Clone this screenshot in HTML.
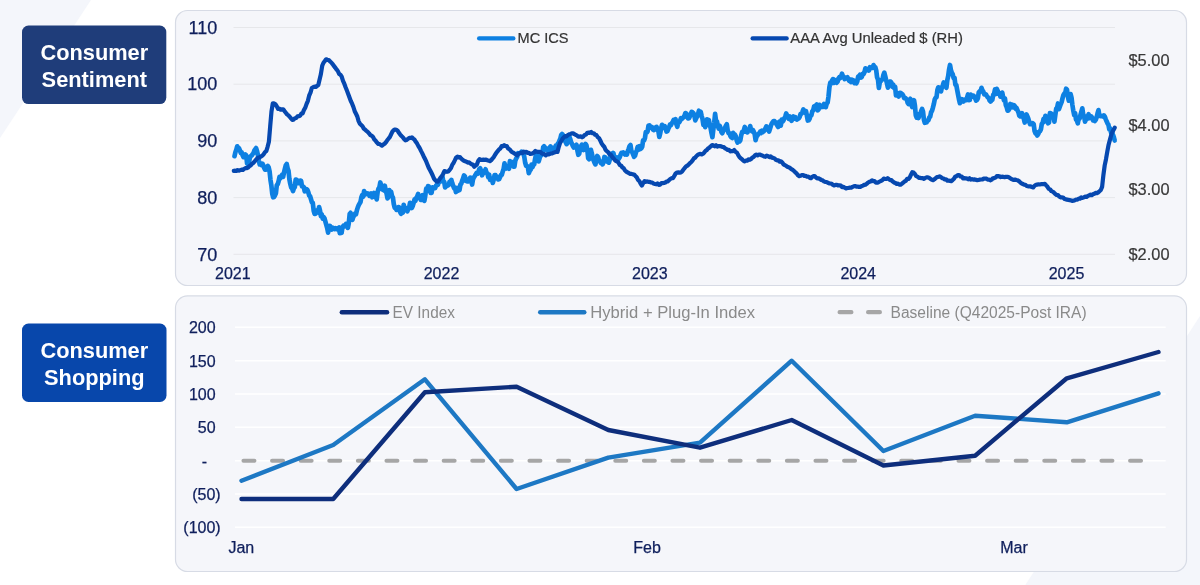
<!DOCTYPE html>
<html lang="en">
<head>
<meta charset="utf-8">
<title>Consumer Sentiment and Consumer Shopping</title>
<style>
html,body{margin:0;padding:0;background:#ffffff;}
body{width:1200px;height:585px;overflow:hidden;font-family:'Liberation Sans', Arial, sans-serif;}
svg{display:block;}
text{font-family:'Liberation Sans', Arial, sans-serif;}
.ax{fill:#0f1f5c;font-size:18px;stroke:#0f1f5c;stroke-width:0.25px;}
.ax2{fill:#0f1f5c;font-size:16px;stroke:#0f1f5c;stroke-width:0.25px;}
.rh{fill:#383838;font-size:16.4px;stroke:#383838;stroke-width:0.2px;}
.lg{fill:#333333;font-size:14.6px;stroke:#333333;stroke-width:0.2px;}
.lg2{fill:#8a8a8a;font-size:15.8px;}
.badge{fill:#ffffff;font-size:21.8px;font-weight:bold;text-anchor:middle;}
</style>
</head>
<body>
<svg width="1200" height="585" viewBox="0 0 1200 585">
<!-- background decorative shapes -->
<polygon points="0,0 91,0 0,138" fill="#f4f6fb"/>
<polygon points="1200,316 1200,585 1025.3,585" fill="#f4f6fb"/>

<!-- panels -->
<rect x="175.5" y="10.5" width="1011" height="275" rx="12" ry="12" fill="#f5f6fa" stroke="#d7dbe5" stroke-width="1.2"/>
<rect x="175.5" y="295.8" width="1011" height="275.7" rx="12" ry="12" fill="#f5f6fa" stroke="#d7dbe5" stroke-width="1.2"/>

<!-- badges -->
<rect x="22" y="25.5" width="144.3" height="78.6" rx="6.5" fill="#1f3d7a"/>
<text class="badge" x="94.3" y="60">Consumer</text>
<text class="badge" x="94.3" y="86.7">Sentiment</text>
<rect x="22" y="323.6" width="144.5" height="78.4" rx="6.5" fill="#0847ab"/>
<text class="badge" x="94.3" y="358">Consumer</text>
<text class="badge" x="94.3" y="384.5">Shopping</text>

<!-- top chart: gridlines -->
<g stroke="#e6e7ea" stroke-width="1">
<line x1="233.5" y1="27.5" x2="1115" y2="27.5"/>
<line x1="233.5" y1="84.2" x2="1115" y2="84.2"/>
<line x1="233.5" y1="140.9" x2="1115" y2="140.9"/>
<line x1="233.5" y1="197.6" x2="1115" y2="197.6"/>
<line x1="233.5" y1="254.3" x2="1115" y2="254.3"/>
</g>
<g class="ax" text-anchor="end">
<text x="217.2" y="33.7">110</text>
<text x="217.2" y="90.4">100</text>
<text x="217.2" y="147.1">90</text>
<text x="217.2" y="203.8">80</text>
<text x="217.2" y="260.5">70</text>
</g>
<g class="rh" text-anchor="start">
<text x="1128.5" y="66.2">$5.00</text>
<text x="1128.5" y="130.9">$4.00</text>
<text x="1128.5" y="195.4">$3.00</text>
<text x="1128.5" y="260.2">$2.00</text>
</g>
<g class="ax2" text-anchor="middle">
<text x="232.8" y="279.4">2021</text>
<text x="441.5" y="279.4">2022</text>
<text x="649.8" y="279.4">2023</text>
<text x="858.2" y="279.4">2024</text>
<text x="1066.5" y="279.4">2025</text>
</g>
<polyline fill="none" stroke="#0d80e2" stroke-width="4.7" stroke-linejoin="round" stroke-linecap="round" points="234.5,156.2 235.4,152.3 236.3,149.8 237.2,146.3 238.1,147.7 239.0,148.3 239.9,150.4 240.8,152.8 241.7,152.4 242.6,155.3 243.5,157.1 244.4,156.7 245.3,154.4 246.2,155.2 247.1,163.5 248.0,164.3 248.9,162.7 249.8,158.0 250.7,156.2 251.6,155.6 252.5,154.3 253.4,153.3 254.3,150.7 255.2,149.4 256.1,148.1 257.0,150.9 257.9,155.0 258.8,160.4 259.7,164.4 260.6,163.5 261.5,165.0 262.4,163.7 263.3,165.4 264.2,167.9 265.1,169.7 266.0,169.6 266.9,168.0 267.8,165.9 268.7,167.5 269.6,171.5 270.5,180.1 271.4,185.7 272.3,193.9 273.2,197.3 274.1,197.0 275.0,195.3 275.9,193.3 276.8,185.1 277.7,184.2 278.6,181.2 279.5,176.9 280.4,178.2 281.3,177.0 282.2,174.6 283.1,176.9 284.0,172.6 284.9,168.8 285.8,165.3 286.7,164.0 287.6,168.2 288.5,170.7 289.4,179.3 290.3,184.0 291.2,187.4 292.1,188.5 293.0,191.1 293.9,188.2 294.8,187.1 295.7,179.5 296.6,179.7 297.5,181.4 298.4,183.2 299.3,183.1 300.2,180.6 301.1,180.8 302.0,186.3 302.9,186.3 303.8,187.2 304.7,191.3 305.6,191.0 306.5,189.2 307.4,189.9 308.3,192.1 309.2,195.6 310.1,196.2 311.0,199.2 311.9,202.4 312.8,202.9 313.7,210.8 314.6,213.9 315.5,213.7 316.4,210.7 317.3,212.3 318.2,212.5 319.1,207.0 320.0,210.6 320.9,216.2 321.8,214.4 322.7,218.5 323.6,217.0 324.5,218.3 325.4,221.7 326.3,224.9 327.2,228.0 328.1,232.6 329.0,227.8 329.9,225.9 330.8,229.2 331.7,229.5 332.6,227.6 333.5,228.5 334.4,229.1 335.3,228.1 336.2,228.5 337.1,229.3 338.0,228.2 338.9,227.6 339.8,233.2 340.7,231.8 341.6,232.8 342.5,227.0 343.4,225.8 344.3,226.4 345.2,225.7 346.1,223.9 347.0,225.3 347.9,227.9 348.8,223.1 349.7,214.0 350.6,212.8 351.5,217.9 352.4,219.8 353.3,216.8 354.2,215.6 355.1,213.5 356.0,214.1 356.9,210.2 357.8,207.4 358.7,205.2 359.6,203.5 360.5,202.0 361.4,197.1 362.3,195.0 363.2,196.7 364.1,191.0 365.0,193.4 365.9,194.2 366.8,193.3 367.7,193.5 368.6,193.5 369.5,195.9 370.4,195.0 371.3,193.5 372.2,197.3 373.1,194.2 374.0,193.0 374.9,193.6 375.8,196.1 376.7,199.4 377.6,192.2 378.5,188.7 379.4,187.5 380.3,182.5 381.2,185.4 382.1,189.1 383.0,189.8 383.9,190.4 384.8,185.7 385.7,190.2 386.6,193.6 387.5,198.4 388.4,197.2 389.3,190.1 390.2,194.3 391.1,191.8 392.0,196.0 392.9,197.4 393.8,204.1 394.7,207.8 395.6,208.2 396.5,209.9 397.4,209.4 398.3,207.1 399.2,207.3 400.1,212.0 401.0,213.8 401.9,210.8 402.8,212.7 403.7,204.8 404.6,208.5 405.5,207.9 406.4,209.4 407.3,211.3 408.2,209.3 409.1,207.9 410.0,202.9 410.9,204.0 411.8,208.0 412.7,206.0 413.6,203.0 414.5,199.5 415.4,200.8 416.3,197.8 417.2,196.6 418.1,193.9 419.0,197.5 419.9,198.2 420.8,199.9 421.7,199.7 422.6,195.2 423.5,200.1 424.4,200.7 425.3,195.5 426.2,188.7 427.1,190.8 428.0,186.1 428.9,186.5 429.8,190.4 430.7,192.9 431.6,192.8 432.5,187.4 433.4,188.6 434.3,188.2 435.2,187.9 436.1,185.5 437.0,184.5 437.9,184.9 438.8,181.7 439.7,180.1 440.6,181.4 441.5,178.6 442.4,176.5 443.3,181.5 444.2,181.7 445.1,187.4 446.0,186.4 446.9,184.9 447.8,185.5 448.7,184.9 449.6,181.7 450.5,181.2 451.4,180.0 452.3,183.4 453.2,185.9 454.1,188.2 455.0,187.4 455.9,192.0 456.8,190.6 457.7,190.8 458.6,187.7 459.5,190.0 460.4,184.6 461.3,183.6 462.2,180.6 463.1,178.5 464.0,175.4 464.9,176.3 465.8,180.8 466.7,180.6 467.6,181.5 468.5,181.4 469.4,179.0 470.3,177.6 471.2,180.4 472.1,184.5 473.0,179.4 473.9,177.3 474.8,176.0 475.7,174.5 476.6,173.0 477.5,173.6 478.4,171.8 479.3,169.0 480.2,168.2 481.1,171.3 482.0,175.3 482.9,173.7 483.8,172.1 484.7,171.2 485.6,169.3 486.5,173.0 487.4,173.3 488.3,177.1 489.2,174.8 490.1,179.8 491.0,179.6 491.9,179.0 492.8,182.9 493.7,179.6 494.6,175.0 495.5,175.0 496.4,177.3 497.3,177.0 498.2,179.4 499.1,179.1 500.0,177.3 500.9,175.1 501.8,174.8 502.7,171.7 503.6,169.1 504.5,163.3 505.4,166.8 506.3,168.5 507.2,167.3 508.1,167.8 509.0,168.8 509.9,161.2 510.8,161.9 511.7,164.5 512.6,162.1 513.5,166.6 514.4,166.6 515.3,160.7 516.2,158.5 517.1,157.1 518.0,153.2 518.9,153.5 519.8,153.1 520.7,153.0 521.6,151.7 522.5,152.9 523.4,153.1 524.3,157.0 525.2,162.8 526.1,165.7 527.0,166.0 527.9,167.2 528.8,173.2 529.7,170.8 530.6,169.8 531.5,164.6 532.4,167.3 533.3,165.3 534.2,164.3 535.1,158.9 536.0,154.7 536.9,156.1 537.8,154.9 538.7,161.3 539.6,158.3 540.5,154.6 541.4,155.3 542.3,153.9 543.2,147.3 544.1,146.2 545.0,147.7 545.9,149.3 546.8,150.3 547.7,148.7 548.6,151.5 549.5,148.5 550.4,146.4 551.3,147.3 552.2,152.1 553.1,149.7 554.0,149.5 554.9,147.6 555.8,145.6 556.7,147.5 557.6,144.1 558.5,143.0 559.4,140.8 560.3,138.8 561.2,135.1 562.1,134.0 563.0,135.2 563.9,137.6 564.8,140.4 565.7,142.3 566.6,144.1 567.5,142.8 568.4,137.9 569.3,136.5 570.2,139.0 571.1,142.1 572.0,143.8 572.9,146.0 573.8,147.5 574.7,147.0 575.6,145.8 576.5,144.7 577.4,150.5 578.3,154.8 579.2,153.7 580.1,149.1 581.0,146.2 581.9,144.6 582.8,145.3 583.7,150.0 584.6,145.3 585.5,144.0 586.4,145.2 587.3,149.5 588.2,158.2 589.1,159.2 590.0,153.3 590.9,149.8 591.8,153.3 592.7,157.8 593.6,160.4 594.5,162.6 595.4,164.4 596.3,160.2 597.2,156.0 598.1,157.0 599.0,160.3 599.9,161.2 600.8,163.0 601.7,161.9 602.6,164.4 603.5,162.0 604.4,157.0 605.3,157.2 606.2,158.8 607.1,161.5 608.0,160.2 608.9,162.7 609.8,159.5 610.7,155.4 611.6,153.6 612.5,154.9 613.4,153.0 614.3,157.0 615.2,159.0 616.1,158.4 617.0,157.5 617.9,160.2 618.8,158.5 619.7,157.3 620.6,154.7 621.5,152.8 622.4,153.0 623.3,152.5 624.2,153.3 625.1,154.5 626.0,154.2 626.9,154.6 627.8,151.2 628.7,148.8 629.6,146.1 630.5,145.1 631.4,151.2 632.3,152.3 633.2,154.6 634.1,156.8 635.0,155.8 635.9,152.7 636.8,150.2 637.7,146.8 638.6,149.7 639.5,146.2 640.4,149.1 641.3,148.3 642.2,146.6 643.1,140.3 644.0,140.5 644.9,138.4 645.8,132.2 646.7,132.6 647.6,131.3 648.5,125.7 649.4,125.3 650.3,126.8 651.2,127.8 652.1,127.2 653.0,129.7 653.9,130.1 654.8,129.0 655.7,127.4 656.6,126.9 657.5,130.0 658.4,131.2 659.3,137.0 660.2,133.4 661.1,128.4 662.0,124.9 662.9,126.1 663.8,127.8 664.7,126.1 665.6,128.2 666.5,131.6 667.4,131.2 668.3,128.8 669.2,126.9 670.1,124.3 671.0,125.0 671.9,123.1 672.8,121.6 673.7,119.9 674.6,120.1 675.5,119.2 676.4,124.3 677.3,126.8 678.2,122.4 679.1,122.5 680.0,121.0 680.9,118.2 681.8,119.0 682.7,117.9 683.6,117.3 684.5,115.8 685.4,113.1 686.3,113.6 687.2,116.7 688.1,118.5 689.0,118.3 689.9,116.3 690.8,113.7 691.7,111.9 692.6,112.4 693.5,113.2 694.4,115.8 695.3,120.4 696.2,118.4 697.1,116.5 698.0,114.3 698.9,110.7 699.8,115.0 700.7,111.8 701.6,115.8 702.5,118.9 703.4,124.8 704.3,122.9 705.2,127.1 706.1,125.0 707.0,119.3 707.9,119.7 708.8,120.0 709.7,124.5 710.6,128.0 711.5,133.0 712.4,137.2 713.3,129.7 714.2,122.8 715.1,113.9 716.0,120.7 716.9,121.2 717.8,125.5 718.7,128.6 719.6,125.7 720.5,127.8 721.4,132.1 722.3,133.2 723.2,130.8 724.1,129.8 725.0,127.9 725.9,125.7 726.8,124.3 727.7,130.6 728.6,133.1 729.5,133.3 730.4,136.1 731.3,137.3 732.2,137.9 733.1,132.9 734.0,134.0 734.9,134.5 735.8,136.3 736.7,140.3 737.6,142.5 738.5,141.5 739.4,141.5 740.3,140.3 741.2,135.3 742.1,132.1 743.0,131.6 743.9,130.2 744.8,127.0 745.7,131.7 746.6,129.9 747.5,132.4 748.4,129.4 749.3,129.4 750.2,126.1 751.1,130.2 752.0,131.3 752.9,129.9 753.8,131.8 754.7,134.2 755.6,140.2 756.5,136.6 757.4,135.7 758.3,134.0 759.2,133.4 760.1,131.8 761.0,133.0 761.9,130.7 762.8,132.0 763.7,131.3 764.6,130.4 765.5,128.2 766.4,126.4 767.3,128.8 768.2,128.8 769.1,131.5 770.0,128.7 770.9,125.7 771.8,123.5 772.7,122.2 773.6,121.1 774.5,121.2 775.4,122.3 776.3,123.9 777.2,125.3 778.1,127.0 779.0,121.8 779.9,121.4 780.8,125.6 781.7,119.5 782.6,121.5 783.5,120.4 784.4,118.3 785.3,116.5 786.2,113.5 787.1,115.5 788.0,116.4 788.9,118.8 789.8,116.4 790.7,119.2 791.6,120.7 792.5,117.9 793.4,116.6 794.3,118.6 795.2,117.1 796.1,119.2 797.0,119.6 797.9,118.8 798.8,118.4 799.7,116.8 800.6,114.0 801.5,113.7 802.4,112.1 803.3,109.5 804.2,110.8 805.1,112.7 806.0,111.1 806.9,115.7 807.8,120.5 808.7,120.3 809.6,118.8 810.5,115.7 811.4,115.3 812.3,111.2 813.2,110.4 814.1,106.5 815.0,105.9 815.9,105.6 816.8,104.5 817.7,110.3 818.6,109.4 819.5,104.8 820.4,107.4 821.3,106.1 822.2,106.9 823.1,106.8 824.0,104.0 824.9,105.3 825.8,107.1 826.7,103.7 827.6,102.6 828.5,96.5 829.4,87.2 830.3,82.6 831.2,83.4 832.1,80.5 833.0,79.1 833.9,82.9 834.8,80.1 835.7,80.9 836.6,82.8 837.5,81.8 838.4,78.6 839.3,77.3 840.2,78.2 841.1,77.0 842.0,73.7 842.9,76.2 843.8,76.7 844.7,79.1 845.6,78.3 846.5,78.0 847.4,77.3 848.3,79.3 849.2,80.8 850.1,79.4 851.0,82.1 851.9,79.7 852.8,80.3 853.7,80.6 854.6,83.1 855.5,81.9 856.4,83.2 857.3,81.2 858.2,76.4 859.1,76.1 860.0,74.8 860.9,77.6 861.8,76.9 862.7,74.0 863.6,74.2 864.5,72.0 865.4,68.3 866.3,70.3 867.2,69.0 868.1,68.9 869.0,70.5 869.9,67.2 870.8,68.0 871.7,68.0 872.6,67.9 873.5,65.1 874.4,66.7 875.3,67.2 876.2,70.3 877.1,77.4 878.0,79.5 878.9,88.0 879.8,82.1 880.7,81.3 881.6,79.8 882.5,79.5 883.4,75.0 884.3,72.6 885.2,76.1 886.1,80.0 887.0,83.4 887.9,87.6 888.8,82.8 889.7,81.6 890.6,81.5 891.5,82.8 892.4,86.7 893.3,84.7 894.2,88.3 895.1,86.7 896.0,95.4 896.9,94.0 897.8,95.3 898.7,96.4 899.6,92.8 900.5,92.8 901.4,93.6 902.3,94.2 903.2,95.5 904.1,98.0 905.0,97.8 905.9,98.6 906.8,99.6 907.7,102.9 908.6,104.1 909.5,100.9 910.4,98.8 911.3,104.0 912.2,107.0 913.1,104.2 914.0,100.2 914.9,105.4 915.8,115.4 916.7,117.6 917.6,114.3 918.5,118.0 919.4,115.5 920.3,114.2 921.2,111.0 922.1,109.0 923.0,111.6 923.9,119.6 924.8,122.8 925.7,122.5 926.6,122.2 927.5,120.7 928.4,120.3 929.3,117.5 930.2,116.6 931.1,112.2 932.0,110.7 932.9,107.7 933.8,104.2 934.7,99.6 935.6,97.7 936.5,97.2 937.4,90.0 938.3,87.3 939.2,89.8 940.1,88.6 941.0,91.4 941.9,87.1 942.8,85.6 943.7,82.5 944.6,83.5 945.5,85.8 946.4,87.8 947.3,80.3 948.2,76.1 949.1,69.4 950.0,65.0 950.9,69.9 951.8,72.7 952.7,74.2 953.6,78.0 954.5,77.8 955.4,84.7 956.3,85.0 957.2,90.0 958.1,94.7 959.0,99.4 959.9,103.2 960.8,101.0 961.7,99.2 962.6,99.6 963.5,101.5 964.4,99.7 965.3,100.1 966.2,100.2 967.1,97.7 968.0,94.5 968.9,100.1 969.8,100.0 970.7,94.5 971.6,96.9 972.5,96.2 973.4,95.6 974.3,96.6 975.2,98.4 976.1,100.5 977.0,100.0 977.9,98.2 978.8,92.2 979.7,91.2 980.6,91.6 981.5,87.9 982.4,90.3 983.3,91.6 984.2,94.3 985.1,94.1 986.0,94.6 986.9,96.0 987.8,97.3 988.7,97.9 989.6,100.5 990.5,101.5 991.4,100.6 992.3,99.8 993.2,94.8 994.1,93.8 995.0,89.4 995.9,94.0 996.8,88.8 997.7,91.0 998.6,93.8 999.5,93.2 1000.4,96.7 1001.3,95.6 1002.2,92.6 1003.1,96.9 1004.0,100.4 1004.9,98.4 1005.8,105.0 1006.7,107.2 1007.6,110.6 1008.5,110.4 1009.4,108.9 1010.3,104.0 1011.2,105.7 1012.1,104.8 1013.0,107.3 1013.9,105.1 1014.8,106.1 1015.7,108.7 1016.6,108.1 1017.5,110.4 1018.4,112.1 1019.3,115.7 1020.2,116.4 1021.1,115.6 1022.0,113.1 1022.9,116.4 1023.8,118.7 1024.7,122.5 1025.6,117.4 1026.5,114.5 1027.4,116.5 1028.3,118.7 1029.2,121.6 1030.1,124.1 1031.0,123.8 1031.9,124.3 1032.8,123.2 1033.7,124.3 1034.6,131.1 1035.5,133.2 1036.4,132.3 1037.3,135.5 1038.2,134.1 1039.1,131.8 1040.0,131.1 1040.9,129.4 1041.8,123.9 1042.7,122.8 1043.6,118.8 1044.5,121.5 1045.4,115.8 1046.3,119.9 1047.2,119.6 1048.1,123.3 1049.0,122.5 1049.9,113.1 1050.8,113.3 1051.7,114.1 1052.6,115.0 1053.5,115.9 1054.4,121.6 1055.3,115.2 1056.2,108.7 1057.1,108.0 1058.0,103.5 1058.9,109.2 1059.8,106.7 1060.7,104.2 1061.6,102.1 1062.5,98.4 1063.4,95.2 1064.3,93.6 1065.2,93.5 1066.1,88.7 1067.0,89.8 1067.9,96.8 1068.8,100.6 1069.7,99.5 1070.6,94.1 1071.5,97.5 1072.4,105.0 1073.3,110.6 1074.2,115.1 1075.1,113.1 1076.0,119.5 1076.9,120.6 1077.8,123.3 1078.7,118.3 1079.6,118.6 1080.5,114.8 1081.4,111.6 1082.3,108.3 1083.2,114.6 1084.1,116.0 1085.0,121.6 1085.9,119.3 1086.8,119.1 1087.7,116.7 1088.6,114.2 1089.5,118.1 1090.4,117.3 1091.3,116.4 1092.2,118.0 1093.1,120.3 1094.0,118.6 1094.9,121.0 1095.8,119.7 1096.7,117.0 1097.6,113.2 1098.5,110.1 1099.4,115.9 1100.3,115.6 1101.2,116.2 1102.1,115.8 1103.0,116.5 1103.9,115.4 1104.8,116.6 1105.7,119.1 1106.6,121.3 1107.5,123.3 1108.4,124.6 1109.3,129.2 1110.2,128.5 1111.1,132.7 1112.0,131.4 1112.9,134.5 1113.8,137.0 1114.7,140.5 1114.7,140.2"/>
<polyline fill="none" stroke="#0648b0" stroke-width="4.2" stroke-linejoin="round" stroke-linecap="round" points="233.8,170.8 235.1,170.7 236.4,171.0 237.7,170.1 239.0,170.7 240.3,170.1 241.6,169.6 242.9,170.0 244.2,168.8 245.5,168.2 246.8,168.1 248.1,167.5 249.4,166.1 250.7,165.4 252.0,163.8 253.3,162.9 254.6,161.5 255.9,159.9 257.2,158.5 258.5,157.5 259.8,157.2 261.1,156.4 262.4,155.5 263.7,154.2 265.0,152.2 266.3,151.2 267.6,146.8 268.9,141.7 270.2,126.2 271.5,111.3 272.8,103.4 274.1,103.4 275.4,104.3 276.7,106.2 278.0,108.9 279.3,108.6 280.6,109.7 281.9,109.4 283.2,109.3 284.5,111.1 285.8,112.7 287.1,114.4 288.4,115.4 289.7,116.8 291.0,118.4 292.3,119.8 293.6,119.6 294.9,118.3 296.2,118.0 297.5,116.4 298.8,116.2 300.1,115.8 301.4,113.5 302.7,113.3 304.0,109.8 305.3,107.7 306.6,103.8 307.9,100.8 309.2,95.5 310.5,92.7 311.8,88.0 313.1,87.2 314.4,86.7 315.7,87.0 317.0,86.0 318.3,85.1 319.6,79.6 320.9,74.0 322.2,65.8 323.5,62.7 324.8,61.1 326.1,59.3 327.4,59.8 328.7,60.0 330.0,61.4 331.3,62.5 332.6,64.1 333.9,65.9 335.2,67.6 336.5,69.4 337.8,71.0 339.1,73.9 340.4,74.7 341.7,76.7 343.0,80.8 344.3,83.7 345.6,87.3 346.9,90.5 348.2,93.9 349.5,97.5 350.8,101.0 352.1,103.7 353.4,107.0 354.7,111.2 356.0,113.8 357.3,116.5 358.6,121.1 359.9,123.7 361.2,125.0 362.5,126.3 363.8,128.6 365.1,129.7 366.4,130.8 367.7,131.8 369.0,133.3 370.3,135.1 371.6,135.7 372.9,136.8 374.2,139.2 375.5,140.6 376.8,142.4 378.1,143.8 379.4,144.0 380.7,144.8 382.0,145.7 383.3,144.6 384.6,143.7 385.9,142.3 387.2,140.3 388.5,138.7 389.8,137.2 391.1,134.4 392.4,131.6 393.7,130.1 395.0,129.5 396.3,129.8 397.6,130.7 398.9,132.8 400.2,134.6 401.5,136.0 402.8,137.2 404.1,139.0 405.4,140.3 406.7,139.9 408.0,138.9 409.3,137.9 410.6,137.9 411.9,137.4 413.2,138.6 414.5,139.7 415.8,141.8 417.1,143.6 418.4,146.1 419.7,148.2 421.0,150.9 422.3,153.4 423.6,156.2 424.9,158.8 426.2,161.4 427.5,164.7 428.8,167.9 430.1,170.2 431.4,172.8 432.7,175.5 434.0,178.6 435.3,180.3 436.6,181.5 437.9,181.6 439.2,179.6 440.5,177.7 441.8,176.3 443.1,174.0 444.4,171.2 445.7,171.4 447.0,171.8 448.3,171.5 449.6,169.9 450.9,168.3 452.2,164.9 453.5,163.0 454.8,160.4 456.1,157.6 457.4,156.6 458.7,157.4 460.0,157.1 461.3,158.7 462.6,159.8 463.9,160.7 465.2,161.2 466.5,161.7 467.8,162.7 469.1,162.4 470.4,163.4 471.7,164.3 473.0,164.8 474.3,166.7 475.6,165.5 476.9,164.5 478.2,161.0 479.5,159.1 480.8,159.8 482.1,159.8 483.4,159.6 484.7,159.9 486.0,159.5 487.3,160.3 488.6,160.5 489.9,161.1 491.2,160.3 492.5,158.5 493.8,157.1 495.1,154.7 496.4,152.8 497.7,151.1 499.0,149.5 500.3,148.6 501.6,146.2 502.9,146.3 504.2,145.2 505.5,146.1 506.8,146.0 508.1,148.4 509.4,149.2 510.7,150.7 512.0,152.1 513.3,152.7 514.6,153.6 515.9,154.3 517.2,155.4 518.5,153.9 519.8,153.2 521.1,152.6 522.4,153.2 523.7,151.6 525.0,152.2 526.3,151.8 527.6,153.0 528.9,152.8 530.2,154.0 531.5,153.7 532.8,153.2 534.1,152.5 535.4,151.0 536.7,151.7 538.0,151.9 539.3,151.8 540.6,152.1 541.9,153.5 543.2,153.9 544.5,154.2 545.8,155.3 547.1,154.3 548.4,154.5 549.7,153.9 551.0,153.5 552.3,153.3 553.6,152.7 554.9,152.3 556.2,151.8 557.5,152.0 558.8,146.8 560.1,142.8 561.4,140.8 562.7,138.5 564.0,137.2 565.3,136.1 566.6,136.3 567.9,135.0 569.2,134.3 570.5,133.9 571.8,133.3 573.1,133.3 574.4,134.2 575.7,134.8 577.0,135.5 578.3,136.6 579.6,136.7 580.9,136.4 582.1,137.3 583.4,136.4 584.7,134.9 586.0,134.5 587.3,132.8 588.6,132.7 589.9,132.9 591.2,131.9 592.5,133.2 593.8,133.3 595.1,134.7 596.4,135.0 597.7,137.1 599.0,138.1 600.3,140.5 601.6,143.3 602.9,145.3 604.2,146.7 605.5,149.7 606.8,151.1 608.1,152.1 609.4,154.2 610.7,154.6 612.0,156.4 613.3,158.2 614.6,159.7 615.9,161.1 617.2,161.5 618.5,162.7 619.8,165.0 621.1,165.6 622.4,167.4 623.7,168.2 625.0,170.5 626.3,171.6 627.6,172.4 628.9,173.1 630.2,173.8 631.5,173.9 632.8,174.4 634.1,174.5 635.4,175.9 636.7,177.2 638.0,179.9 639.3,181.0 640.6,183.5 641.9,185.5 643.2,183.1 644.5,181.1 645.8,181.9 647.1,181.4 648.4,181.8 649.7,181.9 651.0,182.5 652.3,182.6 653.6,183.6 654.9,184.0 656.2,184.3 657.5,183.4 658.8,184.8 660.1,184.6 661.4,183.2 662.7,183.1 664.0,182.9 665.3,182.5 666.6,181.5 667.9,181.3 669.2,180.0 670.5,178.8 671.8,178.2 673.1,178.1 674.4,175.7 675.7,173.4 677.0,172.5 678.3,172.4 679.6,172.7 680.9,172.4 682.2,171.3 683.5,169.5 684.8,167.9 686.1,166.4 687.4,165.7 688.7,164.4 690.0,163.1 691.3,162.0 692.6,160.4 693.9,158.4 695.2,157.6 696.5,156.0 697.8,154.9 699.1,154.2 700.4,153.8 701.7,154.5 703.0,153.7 704.3,152.4 705.6,150.8 706.9,149.9 708.2,148.3 709.5,147.6 710.8,146.3 712.1,145.2 713.4,145.4 714.7,146.3 716.0,145.3 717.3,146.6 718.6,146.0 719.9,146.1 721.2,146.3 722.5,147.0 723.8,147.2 725.1,148.3 726.4,149.0 727.7,149.9 729.0,149.9 730.3,151.3 731.6,151.2 732.9,151.1 734.2,150.0 735.5,151.9 736.8,152.4 738.1,154.9 739.4,157.0 740.7,158.3 742.0,159.2 743.3,160.6 744.6,161.3 745.9,160.7 747.2,160.6 748.5,159.4 749.8,159.8 751.1,158.9 752.4,157.6 753.7,156.9 755.0,155.4 756.3,154.6 757.6,155.3 758.9,154.6 760.2,154.7 761.5,155.3 762.8,155.7 764.1,156.5 765.4,156.8 766.7,155.6 768.0,156.2 769.3,157.1 770.6,156.4 771.9,157.6 773.2,157.9 774.5,158.4 775.8,159.8 777.1,160.3 778.4,160.4 779.7,161.6 781.0,161.4 782.3,162.6 783.6,164.4 784.9,165.2 786.2,165.8 787.5,166.9 788.8,167.2 790.1,168.1 791.4,169.2 792.7,169.9 794.0,171.0 795.3,172.3 796.6,173.4 797.9,175.3 799.2,176.1 800.5,175.8 801.8,175.2 803.1,175.1 804.4,176.0 805.7,175.9 807.0,176.7 808.3,176.6 809.6,177.7 810.9,178.2 812.2,176.8 813.5,176.2 814.8,176.2 816.1,177.6 817.4,178.3 818.7,178.4 820.0,179.1 821.3,179.9 822.6,180.3 823.9,181.3 825.2,181.9 826.5,182.0 827.8,182.8 829.1,183.3 830.4,183.5 831.7,183.8 833.0,184.9 834.3,185.5 835.6,184.8 836.9,184.9 838.2,185.5 839.5,185.3 840.8,185.6 842.1,187.2 843.4,186.9 844.7,187.7 846.0,188.4 847.3,188.0 848.6,187.9 849.9,187.7 851.2,187.7 852.5,186.9 853.8,186.3 855.1,186.0 856.4,186.6 857.7,186.5 859.0,186.9 860.3,186.9 861.6,186.2 862.9,185.6 864.2,184.9 865.5,184.6 866.8,183.8 868.1,182.5 869.4,181.8 870.7,181.4 872.0,180.3 873.3,181.2 874.6,181.2 875.9,182.7 877.2,182.7 878.5,182.2 879.8,181.5 881.1,180.8 882.4,180.1 883.7,178.7 885.0,178.9 886.3,179.0 887.6,178.2 888.9,179.2 890.2,180.1 891.5,180.2 892.8,181.6 894.1,182.5 895.4,183.0 896.7,183.9 898.0,183.7 899.3,184.7 900.6,184.6 901.9,183.8 903.2,182.6 904.5,181.5 905.8,180.9 907.1,178.8 908.4,179.0 909.7,177.6 911.0,174.7 912.3,172.2 913.6,172.6 914.9,174.0 916.2,176.1 917.5,176.6 918.8,177.8 920.1,177.8 921.4,178.2 922.7,178.1 924.0,178.9 925.3,177.9 926.6,177.4 927.9,177.3 929.2,177.9 930.5,179.0 931.8,179.8 933.1,180.1 934.4,179.3 935.7,178.2 937.0,177.0 938.3,176.8 939.6,176.4 940.9,177.1 942.2,178.2 943.5,178.5 944.8,179.4 946.1,179.4 947.4,180.6 948.7,180.6 950.0,180.8 951.3,181.2 952.6,180.1 953.9,178.8 955.2,176.7 956.5,176.2 957.8,175.1 959.1,175.1 960.4,176.4 961.7,176.5 963.0,178.4 964.3,178.1 965.6,178.5 966.9,178.4 968.2,179.3 969.5,178.3 970.8,179.6 972.1,179.1 973.4,179.6 974.7,179.3 976.0,179.9 977.3,180.1 978.6,180.0 979.9,179.6 981.2,179.5 982.5,179.4 983.8,178.6 985.1,178.5 986.4,178.7 987.7,179.7 989.0,179.5 990.3,180.3 991.6,179.7 992.9,178.3 994.2,178.1 995.5,177.6 996.8,176.2 998.1,176.1 999.4,176.3 1000.7,177.1 1002.0,176.7 1003.3,176.8 1004.6,177.2 1005.9,176.8 1007.2,176.8 1008.5,177.1 1009.8,177.8 1011.1,178.8 1012.4,179.5 1013.7,179.9 1015.0,179.6 1016.3,180.0 1017.6,180.3 1018.9,181.1 1020.2,182.3 1021.5,183.4 1022.8,184.0 1024.1,184.6 1025.4,184.8 1026.7,186.0 1028.0,186.3 1029.3,186.4 1030.6,186.4 1031.9,187.1 1033.2,187.5 1034.5,185.8 1035.8,184.8 1037.1,184.7 1038.4,184.3 1039.7,184.5 1041.0,184.2 1042.3,184.0 1043.6,184.1 1044.9,183.9 1046.2,185.4 1047.5,186.8 1048.8,188.9 1050.1,189.4 1051.4,191.1 1052.7,191.6 1054.0,192.7 1055.3,194.0 1056.6,194.9 1057.9,195.1 1059.2,196.4 1060.5,197.3 1061.8,197.4 1063.1,197.5 1064.4,198.9 1065.7,199.2 1067.0,199.7 1068.3,199.9 1069.6,200.1 1070.9,200.3 1072.2,200.9 1073.5,200.7 1074.8,200.3 1076.1,199.5 1077.4,199.7 1078.7,198.7 1080.0,198.7 1081.3,197.3 1082.6,197.9 1083.9,197.4 1085.2,196.7 1086.5,196.9 1087.8,196.0 1089.1,195.3 1090.4,194.7 1091.7,195.2 1093.0,194.3 1094.3,193.8 1095.6,192.8 1096.9,193.2 1098.2,192.4 1099.5,191.2 1100.8,190.0 1102.1,186.9 1103.4,175.1 1104.7,165.4 1106.0,159.2 1107.3,151.7 1108.6,144.7 1109.9,139.9 1111.2,135.0 1112.5,131.6 1113.8,129.4 1114.7,127.7"/>
<line x1="479.1" y1="38.4" x2="513.4" y2="38.4" stroke="#0d80e2" stroke-width="4.2" stroke-linecap="round"/>
<text class="lg" x="517.6" y="43.4" textLength="51" lengthAdjust="spacingAndGlyphs">MC ICS</text>
<line x1="752.6" y1="38.4" x2="786.7" y2="38.4" stroke="#0648b0" stroke-width="4.2" stroke-linecap="round"/>
<text class="lg" x="790.3" y="43.4" textLength="172.6" lengthAdjust="spacingAndGlyphs">AAA Avg Unleaded $ (RH)</text>
<!-- bottom chart -->
<g stroke="#ffffff" stroke-width="1.5">
<line x1="235" y1="327.3" x2="1165.7" y2="327.3"/>
<line x1="235" y1="360.7" x2="1165.7" y2="360.7"/>
<line x1="235" y1="394" x2="1165.7" y2="394"/>
<line x1="235" y1="427.3" x2="1165.7" y2="427.3"/>
<line x1="235" y1="460.7" x2="1165.7" y2="460.7"/>
<line x1="235" y1="494" x2="1165.7" y2="494"/>
<line x1="235" y1="527.3" x2="1165.7" y2="527.3"/>
</g>
<g class="ax2" text-anchor="end">
<text x="215.6" y="333.1">200</text>
<text x="215.6" y="366.5">150</text>
<text x="215.6" y="399.8">100</text>
<text x="215.6" y="433.1">50</text>
<text x="207.2" y="466.5">-</text>
<text x="220.7" y="499.8">(50)</text>
<text x="220.7" y="533.1">(100)</text>
</g>
<g class="ax2" text-anchor="middle">
<text x="241.3" y="553">Jan</text>
<text x="647" y="553">Feb</text>
<text x="1014" y="553">Mar</text>
</g>
<line x1="243.5" y1="460.7" x2="1158.5" y2="460.7" stroke="#a6a6a6" stroke-width="4.1" stroke-linecap="round" stroke-dasharray="10.9 17.7"/>
<polyline fill="none" stroke="#1d78c4" stroke-width="4.4" stroke-linejoin="round" stroke-linecap="round" points="241.5,480.7 333.2,445.0 424.9,379.3 516.6,489.0 608.3,457.7 700.0,442.7 791.7,360.7 883.4,451.0 975.1,415.7 1066.8,422.3 1158.5,393.3"/>
<polyline fill="none" stroke="#0e2e7c" stroke-width="4.4" stroke-linejoin="round" stroke-linecap="round" points="241.5,499.0 333.2,499.0 424.9,392.2 516.6,386.7 608.3,430.0 700.0,447.7 791.7,420.0 883.4,465.5 975.1,455.7 1066.8,378.3 1158.5,352.0"/>
<line x1="341.8" y1="312.2" x2="387.1" y2="312.2" stroke="#0e2e7c" stroke-width="4.4" stroke-linecap="round"/>
<text class="lg2" x="392.6" y="317.9" textLength="62.3" lengthAdjust="spacingAndGlyphs">EV Index</text>
<line x1="540.2" y1="312.2" x2="584.3" y2="312.2" stroke="#1d78c4" stroke-width="4.4" stroke-linecap="round"/>
<text class="lg2" x="590.3" y="317.9" textLength="164.8" lengthAdjust="spacingAndGlyphs">Hybrid + Plug-In Index</text>
<line x1="839.6" y1="312.2" x2="881" y2="312.2" stroke="#a6a6a6" stroke-width="4.2" stroke-linecap="round" stroke-dasharray="11.8 16.7"/>
<text class="lg2" x="890.6" y="317.9" textLength="196" lengthAdjust="spacingAndGlyphs">Baseline (Q42025-Post IRA)</text>
</svg>
</body>
</html>
